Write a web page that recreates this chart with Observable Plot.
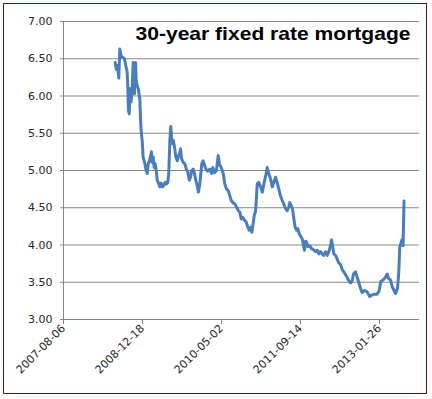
<!DOCTYPE html>
<html><head><meta charset="utf-8">
<script src="https://cdn.jsdelivr.net/npm/d3@7"></script>
<script src="https://cdn.jsdelivr.net/npm/@observablehq/plot@0.6"></script>
<style>
body{margin:0;background:#fff;}
#wrap{position:relative;width:432px;height:399px;overflow:hidden;background:#fff;}
#wrap svg{position:absolute;left:0;top:0;}
#frame{position:absolute;left:3px;top:3px;width:422px;height:389px;border:1.5px solid #5a1717;pointer-events:none;}
</style></head><body><div id="wrap"><div id="frame"></div></div>
<script>
const title = "30-year fixed rate mortgage";
const xTickLabels = ["2007-08-06","2008-12-18","2010-05-02","2011-09-14","2013-01-26"];
const yTickValues = [3.0,3.5,4.0,4.5,5.0,5.5,6.0,6.5,7.0];
const xDomain = ["2007-08-06","2013-10-06"];
const dates = [
"2008-06-28","2008-07-05","2008-07-13","2008-07-21","2008-07-27","2008-08-05","2008-08-13","2008-08-26","2008-09-03","2008-09-12",
"2008-09-16","2008-09-20","2008-09-25","2008-09-29","2008-10-03","2008-10-07","2008-10-14","2008-10-20","2008-10-24","2008-10-28",
"2008-11-04","2008-11-08","2008-11-14","2008-11-21","2008-12-01","2008-12-05","2008-12-10","2008-12-16","2008-12-22","2008-12-31",
"2009-01-08","2009-01-17","2009-01-23","2009-01-31","2009-02-07","2009-02-13","2009-02-17","2009-02-24","2009-03-02","2009-03-08",
"2009-03-15","2009-03-21","2009-03-29","2009-04-07","2009-04-15","2009-04-24","2009-05-02","2009-05-11","2009-05-19","2009-05-27",
"2009-06-02","2009-06-09","2009-06-15","2009-06-20","2009-06-26","2009-07-02","2009-07-09","2009-07-17","2009-07-26","2009-08-03",
"2009-08-09","2009-08-16","2009-08-22","2009-09-02","2009-09-12","2009-09-21","2009-10-01","2009-10-10","2009-10-18","2009-10-26",
"2009-11-04","2009-11-12","2009-11-20","2009-11-29","2009-12-07","2009-12-14","2009-12-20","2009-12-28","2010-01-05","2010-01-12",
"2010-01-21","2010-02-02","2010-02-17","2010-02-28","2010-03-08","2010-03-19","2010-03-31","2010-04-11","2010-04-19","2010-04-30",
"2010-05-13","2010-05-23","2010-06-03","2010-06-13","2010-06-24","2010-07-02","2010-07-13","2010-07-25","2010-08-05","2010-08-16",
"2010-08-26","2010-09-04","2010-09-14","2010-09-25","2010-10-05","2010-10-15","2010-10-24","2010-11-02","2010-11-10","2010-11-19",
"2010-11-27","2010-12-03","2010-12-08","2010-12-14","2010-12-24","2011-01-04","2011-01-15","2011-01-25","2011-02-04","2011-02-15",
"2011-02-25","2011-03-08","2011-03-19","2011-03-29","2011-04-09","2011-04-19","2011-04-30","2011-05-10","2011-05-21","2011-05-31",
"2011-06-11","2011-06-22","2011-07-02","2011-07-08","2011-07-17","2011-07-25","2011-08-03","2011-08-11","2011-08-20","2011-08-28",
"2011-09-06","2011-09-14","2011-09-25","2011-10-05","2011-10-09","2011-10-16","2011-10-22","2011-10-30","2011-11-12","2011-11-23",
"2011-12-03","2011-12-18","2011-12-29","2012-01-08","2012-01-19","2012-01-29","2012-02-08","2012-02-19","2012-03-01","2012-03-11",
"2012-03-22","2012-03-28","2012-04-04","2012-04-12","2012-04-23","2012-05-03","2012-05-13","2012-05-24","2012-06-04","2012-06-14",
"2012-06-25","2012-07-06","2012-07-16","2012-07-26","2012-08-06","2012-08-14","2012-08-27","2012-09-09","2012-09-19","2012-09-28",
"2012-10-08","2012-10-23","2012-11-09","2012-11-24","2012-12-11","2012-12-25","2013-01-10","2013-01-23","2013-02-03","2013-02-17",
"2013-03-02","2013-03-16","2013-03-24","2013-04-06","2013-04-16","2013-04-28","2013-05-08","2013-05-20","2013-05-28","2013-06-03",
"2013-06-10","2013-06-17","2013-06-24","2013-06-27","2013-06-30"
];
const rates = [
6.45,6.36,6.41,6.24,6.63,6.54,6.52,6.50,6.41,6.32,
6.12,5.81,5.76,6.03,6.10,5.92,6.12,6.45,6.25,6.03,
6.45,6.21,6.14,6.10,5.96,5.72,5.51,5.40,5.18,5.11,
5.02,4.96,5.09,5.13,5.20,5.25,5.11,5.18,5.04,5.09,
5.00,4.87,4.83,4.78,4.83,4.78,4.80,4.84,4.82,4.84,
4.96,5.40,5.59,5.45,5.36,5.40,5.31,5.18,5.13,5.20,
5.22,5.29,5.16,5.11,5.09,5.02,4.98,4.87,4.91,5.00,
5.02,4.96,4.87,4.80,4.71,4.80,4.91,5.09,5.13,5.09,
5.03,4.99,5.02,4.96,5.04,4.97,5.00,5.20,5.09,5.04,
4.96,4.82,4.75,4.73,4.66,4.60,4.57,4.55,4.51,4.46,
4.44,4.35,4.37,4.33,4.31,4.24,4.20,4.24,4.17,4.30,
4.42,4.44,4.60,4.82,4.84,4.78,4.71,4.82,4.91,5.04,
4.96,4.89,4.78,4.84,4.91,4.84,4.75,4.66,4.60,4.55,
4.49,4.46,4.51,4.57,4.53,4.49,4.35,4.24,4.20,4.22,
4.15,4.12,4.08,3.97,3.93,4.05,4.04,3.98,3.99,3.95,
3.94,3.91,3.93,3.88,3.91,3.88,3.86,3.91,3.86,3.91,
3.99,4.07,3.99,3.88,3.86,3.81,3.76,3.74,3.67,3.64,
3.60,3.56,3.52,3.49,3.52,3.61,3.64,3.55,3.48,3.42,
3.36,3.39,3.37,3.31,3.33,3.34,3.34,3.38,3.51,3.53,
3.56,3.61,3.55,3.53,3.44,3.39,3.35,3.42,3.64,3.97,
4.02,4.07,3.99,4.30,4.59
];

const data = dates.map((d, i) => ({date: new Date(d), rate: rates[i]}));
const xTicks = xTickLabels.map(d => new Date(d));
const fmt = d3.utcFormat("%Y-%m-%d");

const chart = Plot.plot({
  width: 432,
  height: 399,
  marginLeft: 63,
  marginRight: 13,
  marginTop: 21,
  marginBottom: 80,
  style: {fontFamily: "'DejaVu Sans', Verdana, sans-serif", fontSize: "11px", color: "#262626", background: "transparent", overflow: "visible"},
  x: {type: "utc", domain: xDomain.map(d => new Date(d))},
  y: {domain: [3, 7]},
  marks: [
    Plot.gridY(yTickValues, {stroke: "#868686", strokeOpacity: 1, strokeWidth: 1}),
    Plot.axisY(yTickValues, {tickSize: 3, tickPadding: 8, tickFormat: d => d.toFixed(2), stroke: "#868686", strokeOpacity: 1, label: null}),
    Plot.ruleX([new Date(xDomain[0])], {stroke: "#868686", strokeWidth: 1}),
    Plot.axisX(xTicks, {tickSize: 5, tickPadding: 2, tickRotate: -45, tickFormat: fmt, stroke: "#868686", strokeOpacity: 1, label: null}),
    Plot.line(data, {x: "date", y: "rate", stroke: "#4a7ebb", strokeWidth: 3, strokeLinejoin: "round", strokeLinecap: "round"}),
    Plot.text([title], {frameAnchor: "top-left", dx: 72, dy: 12, textAnchor: "start", lineAnchor: "middle", fontSize: 19, fontWeight: "bold", fontFamily: "'Liberation Sans', Arial, sans-serif", fill: "#000"})
  ]
});
document.getElementById("wrap").insertBefore(chart, document.getElementById("frame"));
for (const t of chart.querySelectorAll("text")) {
  if (t.textContent === title) {
    t.setAttribute("textLength", "275");
    t.setAttribute("lengthAdjust", "spacingAndGlyphs");
  }
}
</script>
</body></html>
